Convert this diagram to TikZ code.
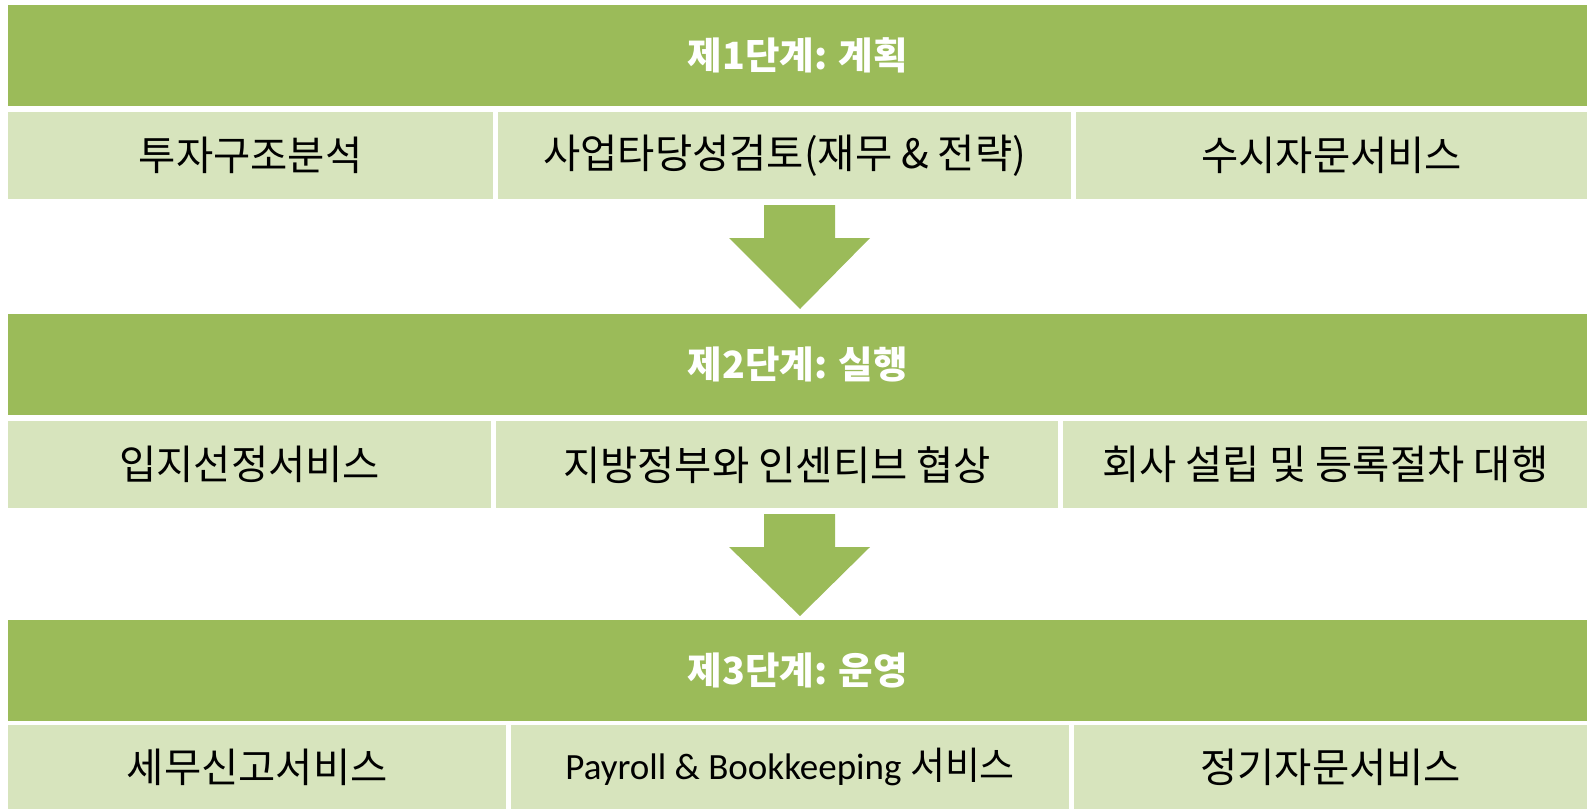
\documentclass[tikz,border=0pt]{standalone}
\usepackage{fontspec}
\setmainfont{Noto Sans CJK KR}
\newfontfamily\lat{Carlito}
\definecolor{hdr}{HTML}{9BBB59}
\definecolor{cell}{HTML}{D7E4BD}
\begin{document}
\begin{tikzpicture}[x=1pt,y=-1pt,
  hdrbox/.style={fill=hdr,draw=none,anchor=north west,inner sep=0pt,minimum height=101pt,
     text=white,font=\fontsize{37.5}{42}\selectfont\bfseries},
  cellbox/.style={fill=cell,draw=none,anchor=north west,inner sep=0pt,
     text=black,font=\fontsize{40.5}{46}\selectfont},
  blockarrow/.style={fill=hdr,draw=none}]
\useasboundingbox (0,0) rectangle (1587,809);
% stage 1
\node[hdrbox,minimum width=1579pt] (h1) at (8,5) {제1단계: 계획};
\node[cellbox,minimum width=485pt,minimum height=87pt] (c11) at (8,112) {투자구조분석};
\node[cellbox,minimum width=573pt,minimum height=87pt] (c12) at (498,112) {사업타당성검토(재무 \& 전략)};
\node[cellbox,minimum width=511pt,minimum height=87pt] (c13) at (1076,112) {수시자문서비스};
% arrow 1
\fill[blockarrow] (764,205) -- (835,205) -- (835,238) -- (870,238) -- (800,309) -- (729,238) -- (764,238) -- cycle;
% stage 2
\node[hdrbox,minimum width=1579pt] (h2) at (8,314) {제2단계: 실행};
\node[cellbox,minimum width=483pt,minimum height=87pt] (c21) at (8,421) {입지선정서비스};
\node[cellbox,minimum width=562pt,minimum height=87pt] (c22) at (496,421) {지방정부와 인센티브 협상};
\node[cellbox,minimum width=524pt,minimum height=87pt] (c23) at (1063,421) {회사 설립 및 등록절차 대행};
% arrow 2
\fill[blockarrow] (764,514) -- (835,514) -- (835,547) -- (870,547) -- (800,616) -- (729,547) -- (764,547) -- cycle;
% stage 3
\node[hdrbox,minimum width=1579pt] (h3) at (8,620) {제3단계: 운영};
\node[cellbox,minimum width=498pt,minimum height=84pt] (c31) at (8,725) {세무신고서비스};
\node[cellbox,minimum width=558pt,minimum height=84pt] (c32) at (511,725) {\fontsize{38}{44}\selectfont{\lat\fontsize{37}{44}\selectfont Payroll \& Bookkeeping} 서비스};
\node[cellbox,minimum width=513pt,minimum height=84pt] (c33) at (1074,725) {정기자문서비스};
\end{tikzpicture}
\end{document}
